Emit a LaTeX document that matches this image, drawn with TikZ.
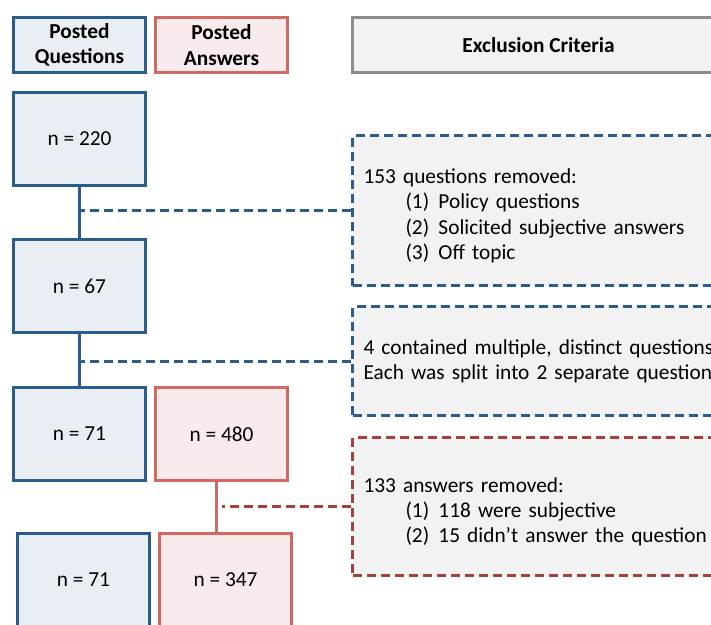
\documentclass[tikz,border=0pt]{standalone}
\usepackage{fontspec}
\setmainfont{Carlito}
\usepackage{tikz}
\usetikzlibrary{positioning}
\definecolor{qblue}{RGB}{44,92,140}
\definecolor{qfill}{RGB}{233,237,244}
\definecolor{ared}{RGB}{208,104,99}
\definecolor{afill}{RGB}{249,235,235}
\definecolor{adark}{RGB}{166,64,60}
\definecolor{xgray}{RGB}{140,140,140}
\definecolor{xfill}{RGB}{242,242,242}
\tikzset{
	txt/.style={font=\fontsize{16}{19}\selectfont},
	qbox/.style={txt, draw=qblue, fill=qfill, line width=2.25pt, minimum width=99pt, minimum height=69.75pt, inner sep=0pt},
	abox/.style={txt, draw=ared, fill=afill, line width=2.25pt, minimum width=99pt, minimum height=69.75pt, inner sep=0pt},
	head/.style={minimum height=41.25pt, align=center},
	xbox/.style={txt, fill=xfill, line width=2.25pt, dash pattern=on 6.75pt off 3.75pt, text width=315pt, align=left, inner xsep=8.25pt},
	qline/.style={draw=qblue, line width=2.25pt},
	aline/.style={draw=ared, line width=2.25pt},
	qdash/.style={qline, dash pattern=on 6.75pt off 3.75pt},
	adash/.style={draw=adark, line width=2.25pt, dash pattern=on 6.75pt off 3.75pt}
}
\newcommand{\crit}[2]{\hspace*{31.5pt}\makebox[24.75pt][l]{#1}#2}

\begin{document}
\begin{tikzpicture}[x=0.75pt, y=-0.75pt]
		\useasboundingbox (0,0) rectangle (711,625);
		\clip (0,0) rectangle (711,625);
		
		\node(A1) [qbox, head] at (79.5,45)				{\textbf{Posted}\\\textbf{Questions}};
		\node(A2) [abox, head, right=5.25pt of A1]		{\textbf{Posted}\\\textbf{Answers}};
		\node(A3) [qbox, head, draw=xgray, fill=xfill, minimum width=279pt, right=46.5pt of A2] {\textbf{Exclusion Criteria}};
		
		\node(B1) [qbox, below=12.75pt of A1]			{n = 220};
		\node(C1) [qbox, below=38.25pt of B1]			{n = 67};
		\node(D1) [qbox, below=39pt of C1]				{n = 71};
		\node(D2) [abox, right=5.25pt of D1]			{n = 480};
		\node(E1) [qbox, below=37.5pt of D1, xshift=3pt]	{n = 71};
		\node(E2) [abox, right=5.25pt of E1]			{n = 347};
		
		\node(X1) [xbox, draw=qblue, minimum height=112.5pt, below=45pt of A3.south west, anchor=north west]
			{\rule{0pt}{19pt}153 questions removed:\\ \crit{(1)}{Policy questions}\\ \crit{(2)}{Solicited subjective answers}\\ \crit{(3)}{Off topic}};
		\node(X2) [xbox, draw=qblue, minimum height=81.75pt, below=13.5pt of X1.south west, anchor=north west]
			{4 contained multiple, distinct questions.\\ Each was split into 2 separate questions.};
		\node(X3) [xbox, draw=adark, minimum height=103.5pt, below=14.25pt of X2.south west, anchor=north west]
			{\rule{0pt}{19pt}133 answers removed:\\ \crit{(1)}{118 were subjective}\\ \crit{(2)}{15 didn’t answer the question}};
		
		\draw[qline](B1) -- (C1);
		\draw[qline](C1) -- (D1);
		\draw[aline]([xshift=-3.4pt]D2.south) -- ([xshift=-3.4pt]D2.south |- E2.north);
		
		\draw[qdash](X1.west) -- (X1.west -| B1.south);
		\draw[qdash](X2.west) -- (X2.west -| C1.south);
		\draw[adash](X3.west) -- (X3.west -| D2.south);
		
	\end{tikzpicture}
\end{document}
